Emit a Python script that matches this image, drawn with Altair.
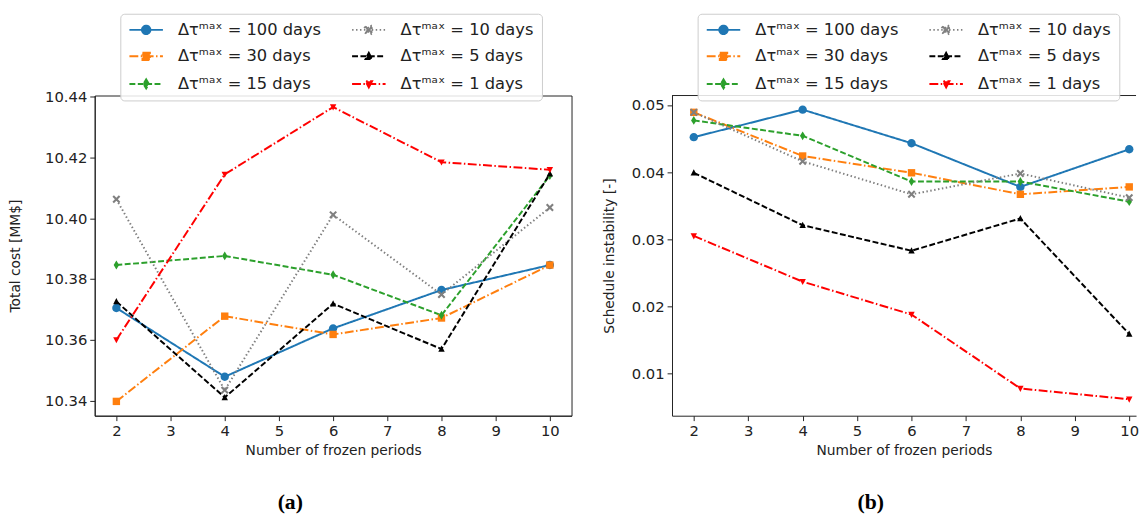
import altair as alt
import pandas as pd

periods = [2, 4, 6, 8, 10]
x_ticks = [2, 3, 4, 5, 6, 7, 8, 9, 10]
series = ["100", "30", "15", "10", "5", "1"]

cost_100 = [10.3705, 10.3479, 10.3638, 10.3764, 10.3846]
cost_30 = [10.3398, 10.3678, 10.3618, 10.3672, 10.3846]
cost_15 = [10.3846, 10.3876, 10.3814, 10.3681, 10.4140]
cost_10 = [10.4062, 10.3435, 10.4011, 10.3749, 10.4035]
cost_5 = [10.3726, 10.3411, 10.3719, 10.3570, 10.4146]
cost_1 = [10.3600, 10.4144, 10.4365, 10.4184, 10.4159]

inst_100 = [0.0452, 0.0493, 0.0443, 0.0378, 0.0434]
inst_30 = [0.0489, 0.0424, 0.0399, 0.0367, 0.0378]
inst_15 = [0.0477, 0.0454, 0.0386, 0.0386, 0.0356]
inst_10 = [0.0489, 0.0416, 0.0367, 0.0398, 0.0362]
inst_5 = [0.0399, 0.0321, 0.0283, 0.0331, 0.0159]
inst_1 = [0.0305, 0.0237, 0.0188, 0.0078, 0.0062]

cost_ticks = [10.34, 10.36, 10.38, 10.40, 10.42, 10.44]
inst_ticks = [0.01, 0.02, 0.03, 0.04, 0.05]

colors = {"100": "#1f77b4", "30": "#ff7f0e", "15": "#2ca02c",
          "10": "#808080", "5": "#000000", "1": "#ff0000"}
dashes = {"100": [1, 0], "30": [9, 2.5, 1.5, 2.5], "15": [6, 2.5],
          "10": [1.5, 2.5], "5": [6, 2.5], "1": [9, 2.5, 1.5, 2.5]}
LINE = "M-3.4,0H3.4"
markers = {
    "100": "M0.85,0A0.85,0.85,0,1,1,-0.85,0A0.85,0.85,0,1,1,0.85,0Z",
    "30": "M-0.75,-0.75H0.75V0.75H-0.75Z",
    "15": "M0,-0.9L0.55,0L0,0.9L-0.55,0Z",
    "10": "M-0.8,-0.5L-0.5,-0.8L0,-0.3L0.5,-0.8L0.8,-0.5L0.3,0L0.8,0.5L0.5,0.8L0,0.3L-0.5,0.8L-0.8,0.5L-0.3,0Z",
    "5": "M0,-0.7L0.65,0.55H-0.65Z",
    "1": "M0,0.7L0.65,-0.55H-0.65Z",
}

def lab(s):
    return "\u0394\u03c4\u1d50\u1d43\u02e3 = " + s + " days"

dom = [lab(s) for s in series]
stroke_scale = alt.Scale(domain=dom, range=[colors[s] for s in series])
dash_scale = alt.Scale(domain=dom, range=[dashes[s] for s in series])
shape_scale = alt.Scale(domain=dom, range=[LINE + markers[s] for s in series])

cost = {"100": cost_100, "30": cost_30, "15": cost_15, "10": cost_10, "5": cost_5, "1": cost_1}
inst = {"100": inst_100, "30": inst_30, "15": inst_15, "10": inst_10, "5": inst_5, "1": inst_1}

def frame(vals):
    rows = []
    for s in series:
        for p, v in zip(periods, vals[s]):
            rows.append({"period": p, "value": v, "label": lab(s), "key": s})
    return pd.DataFrame(rows)

FONT = "DejaVu Sans"
INK = "#222222"
H = 325

def panel(df, ytitle, ydomain, yticks, xdomain, width, caption, full_frame):
    x = alt.X("period:Q", scale=alt.Scale(domain=xdomain, nice=False, zero=False),
              axis=alt.Axis(values=x_ticks, format="d",
                            title="Number of frozen periods", titlePadding=5))
    y = alt.Y("value:Q", scale=alt.Scale(domain=ydomain, nice=False, zero=False),
              axis=alt.Axis(values=yticks, format=".2f", title=ytitle,
                            titlePadding=22 if full_frame else 15))
    leg = alt.Legend(
        title=None, orient="none", legendX=26, legendY=-83, columns=2,
        columnPadding=27, rowPadding=10, labelFont=FONT, labelFontSize=16.5,
        labelColor=INK, labelLimit=400, symbolSize=100, symbolStrokeWidth=2,
        symbolOffset=10, labelOffset=24, padding=8, fillColor="rgba(255,255,255,0.85)",
        strokeColor="#cccccc", cornerRadius=4, symbolOpacity=1,
    )
    base = alt.Chart(df)
    lines = base.mark_line(strokeWidth=2).encode(
        x=x, y=y,
        stroke=alt.Stroke("label:N", scale=stroke_scale, legend=leg),
        strokeDash=alt.StrokeDash("label:N", scale=dash_scale, legend=leg),
    )
    layers = [lines]
    for s in series:
        layers.append(
            base.transform_filter(alt.datum.key == s).mark_point(
                filled=True, opacity=1, size=100, shape=markers[s], color=colors[s]
            ).encode(x=x, y=y)
        )
    legend_layer = base.transform_filter("false").mark_point(
        filled=True, opacity=1, size=100, strokeWidth=2
    ).encode(
        x=x, y=y,
        fill=alt.Fill("label:N", scale=stroke_scale, legend=leg),
        stroke=alt.Stroke("label:N", scale=stroke_scale, legend=leg),
        shape=alt.Shape("label:N", scale=shape_scale, legend=leg),
        strokeDash=alt.StrokeDash("label:N", scale=dash_scale, legend=leg),
    )
    layers.append(legend_layer)
    if not full_frame:
        top = alt.Chart(alt.Data(values=[{"f": 1}])).mark_rule(
            color=INK, strokeWidth=1
        ).encode(x=alt.value(0), x2=alt.value(width), y=alt.value(0))
        layers.append(top)
    ch = alt.layer(*layers).properties(
        width=width, height=H,
        title=alt.TitleParams(caption, orient="bottom", anchor="middle", frame="bounds",
                              font="Liberation Serif", fontSize=22, fontWeight="bold",
                              color="#000000", offset=36),
    )
    if not full_frame:
        ch = ch.properties(view=alt.ViewBackground(stroke=None))
    return ch

left = panel(frame(cost), "Total cost [MM$]", [10.3351, 10.4403], cost_ticks,
             [1.6, 10.4], 484, "(a)", True)
right = panel(frame(inst), "Schedule instability [-]", [0.00375, 0.0514], inst_ticks,
              [1.6, 10.125], 471, "(b)", False)

chart = alt.hconcat(left, right, spacing=30).resolve_legend(
    stroke="independent", fill="independent", shape="independent", strokeDash="independent"
).properties(
    padding={"left": 0, "top": 1, "right": 0, "bottom": 0}, background="white"
).configure_view(stroke=INK, strokeWidth=1).configure_axis(
    grid=False, labelFont=FONT, labelFontSize=15, labelColor=INK,
    titleFont=FONT, titleFontSize=14, titleFontWeight="normal", titleColor=INK,
    domainColor=INK, tickColor=INK, tickSize=5, labelPadding=3,
)

chart.save("out.html", embed_options={"renderer": "svg", "actions": False})
